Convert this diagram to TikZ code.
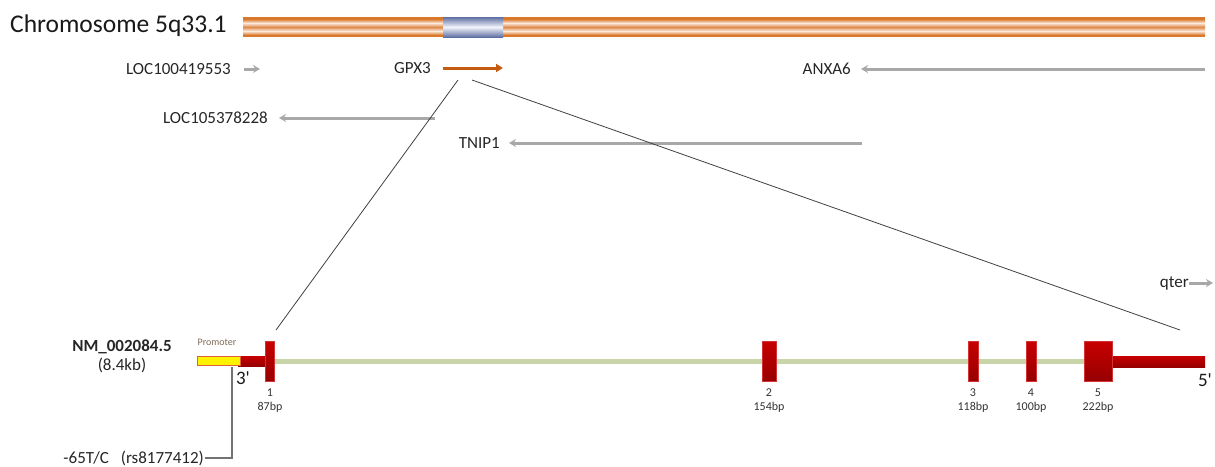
\documentclass[tikz,border=0pt]{standalone}
\usepackage{fontspec}
\setmainfont{Carlito}
\usetikzlibrary{positioning, arrows.meta}

\definecolor{chrom}{HTML}{D9772B}
\definecolor{chromlight}{HTML}{FCEADB}
\definecolor{band}{HTML}{5F6FA3}
\definecolor{bandlight}{HTML}{F2F4FA}
\definecolor{genegray}{HTML}{A8A8A8}
\definecolor{gpxorange}{HTML}{C55A11}
\definecolor{intron}{HTML}{C9D4A8}
\definecolor{exontop}{HTML}{C80000}
\definecolor{exonbot}{HTML}{960000}
\definecolor{promline}{HTML}{E0603A}
\definecolor{promtext}{HTML}{7F6A55}

\begin{document}
\begin{tikzpicture}[x=1pt, y=-1pt,
		gene/.style={font=\fontsize{17}{19}\selectfont, text=black!85, inner sep=0pt, anchor=east},
		genearrow/.style={draw=genegray, line width=3pt, -{Stealth[length=7pt, width=8pt]}},
		zoomline/.style={draw=black!75, line width=0.8pt},
		exon/.style={top color=exontop, bottom color=exonbot, draw=exontop!80!white, line width=0.4pt, inner sep=0pt, minimum height=40pt},
		exlbl/.style={font=\fontsize{12}{14}\selectfont, text=black!80, align=center, inner sep=0pt, below=7pt}]
			\useasboundingbox (0,0) rectangle (1215,466);
			
			% chromosome
			\node[font=\fontsize{25.5}{28}\selectfont, text=black!90, anchor=west, inner sep=0pt] (chr) at (10,26) {Chromosome 5q33.1};
			\fill[chrom] (243,17) rectangle (1205,37);
			\shade[top color=chrom, bottom color=chromlight] (243,19) rectangle (1205,23);
			\shade[top color=chromlight, bottom color=chrom!85!white] (243,23) rectangle (1205,27);
			\shade[top color=chrom!85!white, bottom color=chromlight] (243,27) rectangle (1205,31);
			\shade[top color=chromlight, bottom color=chrom] (243,31) rectangle (1205,35);
			\shade[top color=band, bottom color=bandlight] (443,17) rectangle (503,27);
			\shade[top color=bandlight, bottom color=band] (443,27) rectangle (503,37);
			
			% genes of the region
			\node[gene] (loca) at (231,69) {LOC100419553};
			\draw[genearrow] ([xshift=13pt]loca.east) -- ++(16,0);
			
			\node[gene] (gpx) at (431,68) {GPX3};
			\draw[draw=gpxorange, line width=3pt, -{Triangle[length=7pt, width=8pt]}] ([xshift=12pt]gpx.east) -- ++(60,0);
			
			\node[gene] (anxa) at (851,69) {ANXA6};
			\draw[genearrow] (1205,69) -- ([xshift=10pt]anxa.east);
			
			\node[gene] (locb) at (268,118) {LOC105378228};
			\draw[genearrow] (435,118) -- ([xshift=11pt]locb.east);
			
			\node[gene] (tnip) at (500,143) {TNIP1};
			\draw[genearrow] (862,143) -- ([xshift=9pt]tnip.east);
			
			\node[gene] (qter) at (1189,283) {qter};
			\draw[genearrow] (qter.east) -- ++(24,0);
			
			% zoom onto GPX3
			\coordinate (zl) at (458,80);
			\coordinate (zr) at (472,80);
			\coordinate (tl) at (276,330);
			\coordinate (tr) at (1180,330);
			\draw[zoomline] (zl) -- (tl);
			\draw[zoomline] (zr) -- (tr);
			
			% transcript
			\node[font=\fontsize{17}{19}\selectfont\bfseries, text=black!85, inner sep=0pt] (nm) at (122,347) {NM\_002084.5};
			\node[font=\fontsize{17}{19}\selectfont, text=black!85, inner sep=0pt, below=4pt of nm] (len) {(8.4kb)};
			
			\draw[line width=5pt, intron] (274,361) -- (1205,361);
			\shade[top color=exontop, bottom color=exonbot] (238,356) rectangle (270,366);
			\shade[top color=exontop, bottom color=exonbot] (1110,356) rectangle (1205,367);
			\draw[draw=promline, fill=yellow, line width=0.8pt] (197,356) rectangle (240,365);
			\node[font=\fontsize{10}{11}\selectfont, text=promtext, inner sep=0pt] (prom) at (217,342) {Promoter};
			
			\node[exon, minimum width=9pt] (e1) at (270,361) {};
			\node[exon, minimum width=14pt] (e2) at (769,361) {};
			\node[exon, minimum width=10pt] (e3) at (973,361) {};
			\node[exon, minimum width=10pt] (e4) at (1031,361) {};
			\node[exon, minimum width=28pt] (e5) at (1098,361) {};
			
			\node[exlbl] at (e1.south) {1\\87bp};
			\node[exlbl] at (e2.south) {2\\154bp};
			\node[exlbl] at (e3.south) {3\\118bp};
			\node[exlbl] at (e4.south) {4\\100bp};
			\node[exlbl] at (e5.south) {5\\222bp};
			
			\node[font=\fontsize{19}{20}\selectfont, text=black!90, inner sep=0pt] (end3) at (243,378) {3\textquotesingle};
			\node[font=\fontsize{19}{20}\selectfont, text=black!90, inner sep=0pt] (end5) at (1205,380) {5\textquotesingle};
			
			% SNP
			\coordinate (snpat) at (232,367);
			\node[font=\fontsize{17}{19}\selectfont, text=black!85, inner sep=0pt, anchor=east] (snp) at (204,458) {-65T/C\hspace{12pt}(rs8177412)};
			\draw[draw=black!55, line width=1.2pt] ([xshift=1pt]snp.east) -| (snpat);
		\end{tikzpicture}
\end{document}
